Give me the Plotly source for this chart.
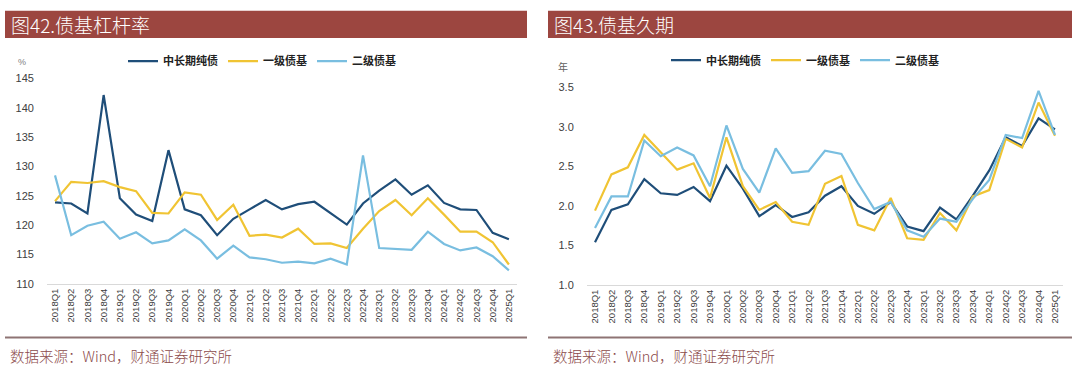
import plotly.graph_objects as go

W, H = 1080, 376

quarters = ["2018Q1", "2018Q2", "2018Q3", "2018Q4", "2019Q1", "2019Q2", "2019Q3", "2019Q4",
            "2020Q1", "2020Q2", "2020Q3", "2020Q4", "2021Q1", "2021Q2", "2021Q3", "2021Q4",
            "2022Q1", "2022Q2", "2022Q3", "2022Q4", "2023Q1", "2023Q2", "2023Q3", "2023Q4",
            "2024Q1", "2024Q2", "2024Q3", "2024Q4", "2025Q1"]

series_names = ["中长期纯债", "一级债基", "二级债基"]

# Leverage (%)
lev_mid_long = [123.9, 123.7, 122.0, 142.2, 124.6, 121.8, 120.7, 132.8, 122.7, 121.7, 118.3, 121.1,
                122.7, 124.3, 122.7, 123.6, 124.0, 122.1, 120.1, 123.7, 125.9, 127.8, 125.2, 126.8,
                123.8, 122.7, 122.6, 118.7, 117.6]
lev_primary = [124.1, 127.4, 127.2, 127.5, 126.5, 125.8, 122.1, 122.0, 125.6, 125.2, 120.9, 123.5,
               118.2, 118.4, 117.9, 119.4, 116.8, 116.9, 116.1, 119.4, 122.4, 124.3, 121.7, 124.6,
               121.8, 118.9, 118.9, 117.1, 113.3]
lev_secondary = [128.5, 118.3, 119.9, 120.6, 117.7, 118.8, 116.9, 117.4, 119.3, 117.4, 114.3, 116.5,
                 114.5, 114.2, 113.6, 113.8, 113.5, 114.3, 113.3, 131.9, 116.1, 115.9, 115.8, 118.9,
                 116.8, 115.7, 116.2, 114.7, 112.3]

# Duration (years)
dur_mid_long = [1.54, 1.95, 2.02, 2.34, 2.16, 2.14, 2.24, 2.06, 2.51, 2.22, 1.87, 2.01,
                1.86, 1.92, 2.13, 2.25, 2.00, 1.90, 2.05, 1.74, 1.68, 1.98, 1.83, 2.13,
                2.45, 2.87, 2.76, 3.11, 2.97]
dur_primary = [1.94, 2.40, 2.49, 2.90, 2.68, 2.46, 2.54, 2.10, 2.87, 2.25, 1.95, 2.05,
               1.80, 1.76, 2.28, 2.38, 1.76, 1.69, 2.10, 1.59, 1.57, 1.91, 1.69, 2.12,
               2.20, 2.85, 2.74, 3.31, 2.89]
dur_secondary = [1.72, 2.12, 2.12, 2.83, 2.63, 2.74, 2.64, 2.25, 3.02, 2.47, 2.17, 2.73,
                 2.42, 2.44, 2.70, 2.66, 2.29, 1.96, 2.05, 1.69, 1.61, 1.84, 1.80, 2.09,
                 2.33, 2.90, 2.86, 3.46, 2.90]

colors = ["#1F4E79", "#F0C433", "#79BEE0"]

fig = go.Figure()

for name, vals, c in zip(series_names, [lev_mid_long, lev_primary, lev_secondary], colors):
    fig.add_trace(go.Scatter(x=quarters, y=vals, name=name, mode="lines",
                             line=dict(color=c, width=2.2), xaxis="x", yaxis="y",
                             legend="legend"))
for name, vals, c in zip(series_names, [dur_mid_long, dur_primary, dur_secondary], colors):
    fig.add_trace(go.Scatter(x=quarters, y=vals, name=name, mode="lines",
                             line=dict(color=c, width=2.2), xaxis="x2", yaxis="y2",
                             legend="legend2"))

def px(x):
    return x / W

def py(y):
    return 1 - y / H

tick_font = dict(family="Liberation Sans, Arial", size=11, color="#404040")
xtick_font = dict(family="Liberation Sans, Arial", size=9.5, color="#404040")
legend_font = dict(family="Noto Sans CJK SC", size=11, color="#222222", weight="bold")

xcommon = dict(type="category", tickangle=-90, showgrid=False, zeroline=False,
               showline=True, linecolor="#D9D9D9", linewidth=1, ticks="",
               tickfont=xtick_font, range=[-0.5, 28.5], fixedrange=True)

fig.update_layout(
    width=W, height=H,
    margin=dict(l=0, r=0, t=0, b=0),
    paper_bgcolor="white", plot_bgcolor="white",
    xaxis=dict(domain=[px(46.9), px(517.0)], anchor="y", **xcommon),
    yaxis=dict(domain=[py(287), py(75)], anchor="x", range=[110, 145], dtick=5,
               showgrid=False, zeroline=False, showline=False, ticks="",
               tickfont=tick_font, ticklabelstandoff=12),
    xaxis2=dict(domain=[px(586.8), px(1063.2)], anchor="y2", **xcommon),
    yaxis2=dict(domain=[py(288), py(84.3)], anchor="x2", range=[1.0, 3.5], dtick=0.5,
                tickformat=".1f", showgrid=False, zeroline=False, showline=False, ticks="",
                tickfont=tick_font, ticklabelstandoff=12),
    legend=dict(orientation="h", x=px(123), y=py(57), xanchor="left", yanchor="middle",
                font=legend_font, bgcolor="rgba(0,0,0,0)", itemclick=False),
    legend2=dict(orientation="h", x=px(666), y=py(56), xanchor="left", yanchor="middle",
                 font=legend_font, bgcolor="rgba(0,0,0,0)", itemclick=False),
    showlegend=True,
)

bar_color = "#9C4640"
shapes = []
annotations = []
for (x0, x1, title) in [(5, 527, "图42.债基杠杆率"), (548, 1072, "图43.债基久期")]:
    shapes.append(dict(type="rect", xref="paper", yref="paper",
                       x0=px(x0), x1=px(x1), y0=py(33), y1=py(5),
                       fillcolor=bar_color, line=dict(width=0), layer="below"))
    shapes.append(dict(type="line", xref="paper", yref="paper",
                       x0=px(x0), x1=px(x1), y0=py(342.5), y1=py(342.5),
                       line=dict(color="#8E7474", width=2)))
    annotations.append(dict(text=title, xref="paper", yref="paper",
                            x=px(x0 + 4), y=py(19), xanchor="left", yanchor="middle",
                            showarrow=False,
                            font=dict(family="Noto Sans CJK SC", size=19, color="white",
                                      weight=300)))
    annotations.append(dict(text="数据来源：Wind，财通证券研究所", xref="paper", yref="paper",
                            x=px(x0 + 3), y=py(361), xanchor="left", yanchor="middle",
                            showarrow=False,
                            font=dict(family="Noto Sans CJK SC", size=14.5, color="#8B4A4A",
                                      weight=300)))

annotations.append(dict(text="%", xref="paper", yref="paper", x=px(22), y=py(58),
                        xanchor="center", yanchor="middle", showarrow=False,
                        font=dict(family="Liberation Sans, Arial", size=9, color="#808080")))
annotations.append(dict(text="年", xref="paper", yref="paper", x=px(563), y=py(63),
                        xanchor="center", yanchor="middle", showarrow=False,
                        font=dict(family="Noto Sans CJK SC", size=10, color="#606060")))

fig.update_layout(shapes=shapes, annotations=annotations)

fig.write_html("out.html", config={"displayModeBar": False},
               post_script="document.body.style.margin='0';document.body.style.overflow='hidden';")
